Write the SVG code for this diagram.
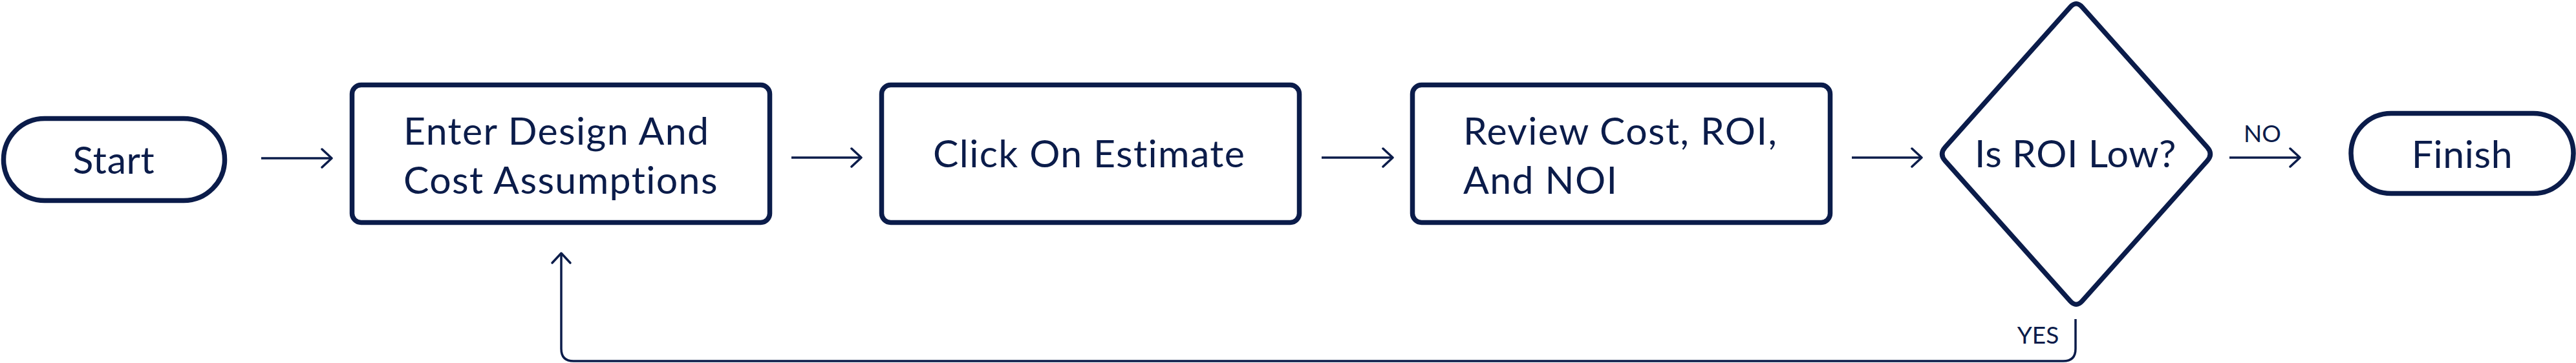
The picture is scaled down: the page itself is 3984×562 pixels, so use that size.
<svg xmlns="http://www.w3.org/2000/svg" width="3984" height="562" viewBox="0 0 3984 562">
<style>
.shape{fill:#ffffff;stroke:#0b1c4a;stroke-width:7.5}
.t{font-family:Lato,"Liberation Sans",sans-serif;font-size:59px;fill:#0b1c4a;letter-spacing:0.6px}
.w{letter-spacing:1.4px}
.lbl{font-family:Lato,"Liberation Sans",sans-serif;font-size:37px;fill:#0b1c4a;text-anchor:middle}
.c{fill:none;stroke:#0b1c4a;stroke-width:3.5;marker-end:url(#ah)}
</style>
<defs>
<marker id="ah" markerUnits="userSpaceOnUse" viewBox="-20 -20 40 40" markerWidth="40" markerHeight="40" refX="0" refY="0" orient="auto">
<path d="M -15 -14 L 0 0 L -15 14" fill="none" stroke="#0b1c4a" stroke-width="3.5" stroke-linecap="round" stroke-linejoin="round"/>
</marker>
</defs>
<rect width="3984" height="562" fill="#ffffff"/>
<g id="connectors">
<path class="c" d="M 404 245 H 513"/>
<path class="c" d="M 1224 244 H 1332"/>
<path class="c" d="M 2044 244 H 2154"/>
<path class="c" d="M 2864 244 H 2972"/>
<path class="c" d="M 3448 244 H 3557"/>
<path class="c" d="M 3210 494 V 540 Q 3210 559 3191 559 H 887 Q 868 559 868 540 V 392"/>
<text class="lbl" x="3499" y="220">NO</text>
<text class="lbl" x="3152" y="532">YES</text>
</g>
<g id="start">
<rect class="shape" x="5.5" y="183.5" width="342" height="127" rx="63.5"/>
<text class="t" x="176" y="269" text-anchor="middle">Start</text>
</g>
<g id="enter">
<rect class="shape" x="544.5" y="131.5" width="646" height="213" rx="14"/>
<text class="t w" x="624" y="224">Enter Design And</text>
<text class="t w" x="624" y="300">Cost Assumptions</text>
</g>
<g id="click">
<rect class="shape" x="1363.5" y="131.5" width="646" height="213" rx="14"/>
<text class="t w" x="1443" y="259">Click On Estimate</text>
</g>
<g id="review">
<rect class="shape" x="2184.5" y="131.5" width="646" height="213" rx="14"/>
<text class="t w" x="2263" y="224">Review Cost, ROI,</text>
<text class="t w" x="2263" y="300">And NOI</text>
</g>
<g id="decision">
<path class="shape" stroke-linejoin="round" d="M 3220.3 11 L 3413.7 228 Q 3423 238.5 3413.7 249 L 3220.3 466 Q 3211 476.5 3201.7 466 L 3008.3 249 Q 2999 238.5 3008.3 228 L 3201.7 11 Q 3211 0.5 3220.3 11 Z"/>
<text class="t" x="3210" y="259" text-anchor="middle">Is ROI Low?</text>
</g>
<g id="finish">
<rect class="shape" x="3636" y="175.5" width="344" height="124" rx="62"/>
<text class="t" x="3808" y="260" text-anchor="middle">Finish</text>
</g>
</svg>
